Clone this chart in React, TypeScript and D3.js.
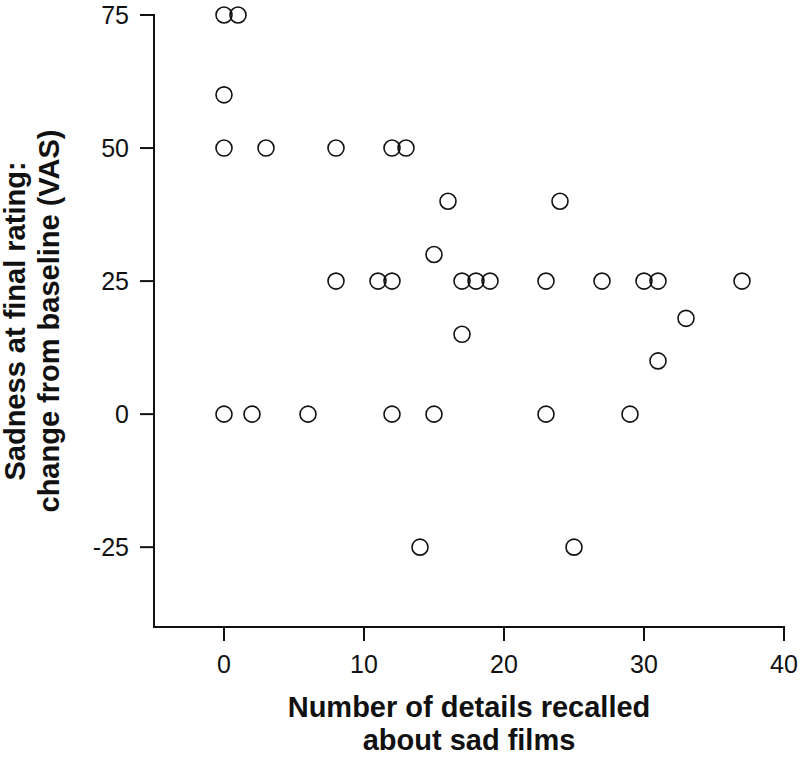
import React from "react";
import * as d3 from "d3";

const detailsRecalled = [0, 1, 0, 0, 3, 8, 12, 13, 16, 24, 15, 8, 11, 12, 17, 18, 19, 23, 27, 30, 31, 37, 33, 17, 31, 0, 2, 6, 12, 15, 23, 29, 14, 25];
const sadnessChange = [75, 75, 60, 50, 50, 50, 50, 50, 40, 40, 30, 25, 25, 25, 25, 25, 25, 25, 25, 25, 25, 25, 18, 15, 10, 0, 0, 0, 0, 0, 0, 0, -25, -25];
const xTicks = [0, 10, 20, 30, 40];
const yTicks = [-25, 0, 25, 50, 75];
const xTitle = ["Number of details recalled", "about sad films"];
const yTitle = ["Sadness at final rating:", "change from baseline (VAS)"];

const W = 800;
const H = 761;
const FONT = "'Liberation Sans', Arial, Helvetica, sans-serif";

export default function App() {
  const x = d3.scaleLinear().domain([-5, 40]).range([154, 784]);
  const y = d3.scaleLinear().domain([-40, 75]).range([627, 15]);
  const data = detailsRecalled.map((d, i) => ({ x: d, y: sadnessChange[i] }));
  const tick = 14;
  const yMid = (y(-40) + y(75)) / 2;
  return (
    <svg width={W} height={H} style={{ position: "absolute", left: 0, top: 0, background: "#fff" }}>
      <rect width={W} height={H} fill="#fff" />
      {/* axes */}
      <line x1={x(-5)} x2={x(40)} y1={y(-40)} y2={y(-40)} stroke="#111" strokeWidth={2} strokeLinecap="square" />
      <line x1={x(-5)} x2={x(-5)} y1={y(-40)} y2={y(75)} stroke="#111" strokeWidth={2} strokeLinecap="square" />
      {xTicks.map((t) => (
        <g key={"xt" + t}>
          <line x1={x(t)} x2={x(t)} y1={y(-40)} y2={y(-40) + tick} stroke="#111" strokeWidth={2} />
          <text x={x(t)} y={y(-40) + 46} textAnchor="middle" fontFamily={FONT} fontSize={25} fill="#111">
            {t}
          </text>
        </g>
      ))}
      {yTicks.map((t) => (
        <g key={"yt" + t}>
          <line x1={x(-5) - tick} x2={x(-5)} y1={y(t)} y2={y(t)} stroke="#111" strokeWidth={2} />
          <text x={x(-5) - 25} y={y(t)} dy="0.35em" textAnchor="end" fontFamily={FONT} fontSize={25} fill="#111">
            {t}
          </text>
        </g>
      ))}
      {/* points */}
      {data.map((d, i) => (
        <circle key={i} cx={x(d.x)} cy={y(d.y)} r={8} fill="none" stroke="#111" strokeWidth={1.6} />
      ))}
      {/* x title */}
      {xTitle.map((s, i) => (
        <text key={"xl" + i} x={469} y={717 + i * 33} textAnchor="middle" fontFamily={FONT} fontSize={29} fontWeight="bold" fill="#111">
          {s}
        </text>
      ))}
      {/* y title */}
      {yTitle.map((s, i) => (
        <text
          key={"yl" + i}
          transform={`translate(${25 + i * 34},${yMid}) rotate(-90)`}
          textAnchor="middle"
          fontFamily={FONT}
          fontSize={29}
          fontWeight="bold"
          fill="#111"
        >
          {s}
        </text>
      ))}
    </svg>
  );
}
